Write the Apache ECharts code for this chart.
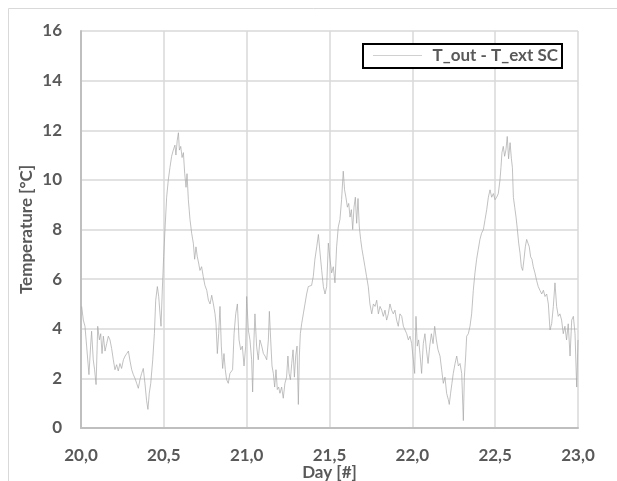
<!DOCTYPE html>
<html>
<head>
<meta charset="utf-8">
<script src="https://cdn.jsdelivr.net/npm/echarts@6/dist/echarts.min.js"></script>
<style>html,body{margin:0;padding:0;background:#fff;}#c{width:617px;height:481px;}</style>
</head>
<body>
<div id="c"></div>
<script>
const seriesName = 'T_out - T_ext SC';
const xTicks = [20.0, 20.5, 21.0, 21.5, 22.0, 22.5, 23.0];
const yTicks = [0, 2, 4, 6, 8, 10, 12, 14, 16];
const days = [
20.004,20.014,20.024,20.034,20.048,20.058,20.064,20.074,20.082,20.091,20.101,20.111,20.119,20.127,20.135,20.145,20.155,20.165,20.175,20.185,
20.195,20.205,20.215,20.225,20.235,20.245,20.256,20.266,20.276,20.286,20.296,20.306,20.316,20.326,20.336,20.346,20.356,20.366,20.376,20.386,
20.396,20.404,20.412,20.421,20.433,20.443,20.451,20.461,20.469,20.477,20.483,20.491,20.499,20.507,20.517,20.527,20.537,20.547,20.557,20.567,
20.573,20.581,20.588,20.594,20.602,20.610,20.618,20.626,20.634,20.640,20.648,20.658,20.668,20.678,20.686,20.694,20.702,20.710,20.718,20.728,
20.738,20.748,20.759,20.769,20.779,20.789,20.799,20.809,20.815,20.823,20.831,20.839,20.847,20.855,20.863,20.871,20.879,20.889,20.899,
20.915,20.924,20.934,20.944,20.954,20.964,20.974,20.984,20.994,21.000,21.010,21.020,21.030,21.036,21.044,21.050,21.060,21.070,21.080,21.091,
21.101,21.111,21.121,21.131,21.137,21.145,21.153,21.161,21.169,21.177,21.185,21.193,21.201,21.211,21.221,21.231,21.241,21.249,21.256,21.264,
21.272,21.280,21.288,21.296,21.304,21.312,21.318,21.324,21.332,21.342,21.352,21.362,21.372,21.382,21.392,21.402,21.412,21.423,21.433,21.443,
21.453,21.463,21.473,21.483,21.493,21.503,21.513,21.523,21.533,21.543,21.553,21.563,21.573,21.583,21.591,21.599,21.608,21.616,21.624,21.632,
21.640,21.648,21.656,21.664,21.672,21.680,21.688,21.696,21.704,21.714,21.724,21.734,21.744,21.755,21.765,21.775,21.785,21.795,21.805,21.815,
21.825,21.835,21.845,21.855,21.865,21.875,21.885,21.895,21.905,21.915,21.925,
21.936,21.946,21.956,21.966,21.976,21.986,21.996,22.006,22.014,22.022,22.030,22.038,22.046,22.056,22.066,22.076,22.085,22.095,22.105,22.115,
22.125,22.135,22.145,22.155,22.167,22.177,22.187,22.197,22.207,22.217,22.223,22.231,22.239,22.247,22.258,22.268,22.278,22.288,22.298,22.308,
22.314,22.322,22.328,22.338,22.348,22.358,22.368,22.378,22.388,22.398,22.408,22.418,22.429,22.439,22.449,22.459,22.469,22.479,22.489,22.499,
22.509,22.519,22.529,22.535,22.541,22.549,22.557,22.565,22.573,22.581,22.590,22.598,22.604,22.610,22.618,22.626,22.634,22.642,22.650,22.658,
22.666,22.674,22.682,22.690,22.698,22.706,22.714,22.722,22.730,22.740,22.750,22.760,22.770,22.781,22.791,22.801,22.811,22.821,22.831,22.841,
22.851,22.861,22.871,22.881,22.891,22.901,22.911,22.921,22.931,22.941,22.952,22.962,22.972,22.982,22.992,23.000
];
const temps = [
4.9,4.35,4.1,3.3,2.15,3.3,3.9,2.75,2.35,1.75,4.1,3.55,3.8,3.0,3.7,3.1,3.4,3.7,3.55,3.2,
2.75,2.35,2.55,2.3,2.6,2.4,2.75,2.9,3.0,3.1,2.7,2.35,2.15,2.0,1.8,1.6,1.95,2.2,2.4,1.8,
1.1,0.75,1.4,1.8,2.75,3.8,5.15,5.7,5.3,4.6,4.1,5.6,6.9,8.0,9.3,10.0,10.5,10.95,11.2,11.4,
11.0,11.6,11.9,11.2,11.35,10.9,11.1,10.25,9.7,10.25,9.2,8.4,7.85,7.45,6.8,7.3,6.9,6.65,6.35,6.5,
6.1,5.75,5.55,5.15,5.0,5.35,5.0,4.6,4.2,3.0,3.8,4.9,3.3,2.4,3.0,2.35,1.95,1.8,2.2,
2.35,3.8,4.6,5.0,3.55,3.15,3.3,2.5,3.3,5.3,3.95,3.55,2.75,1.45,3.55,4.6,3.3,2.75,3.55,3.3,
3.0,2.9,2.75,3.55,4.7,3.55,2.5,2.2,1.65,2.35,1.55,1.65,1.4,1.65,1.2,1.8,2.05,2.9,2.2,1.95,
2.6,3.15,2.05,2.9,3.3,0.95,2.9,3.8,4.2,4.6,5.0,5.4,5.7,5.65,5.75,6.1,6.8,7.3,7.8,7.05,
6.35,5.7,5.4,5.7,7.45,6.8,6.25,6.5,5.85,7.3,8.1,8.4,9.2,10.35,9.6,9.3,8.9,9.05,8.5,8.8,
8.0,8.9,9.3,8.25,9.25,8.1,7.6,7.2,6.9,6.5,6.1,5.7,5.0,4.6,5.0,4.9,5.15,4.6,4.9,4.75,
4.5,4.75,4.35,4.6,5.0,4.75,4.6,4.75,4.35,4.1,4.6,
4.5,4.1,3.95,3.8,3.55,3.7,3.4,2.75,2.2,4.5,3.3,3.55,3.0,2.2,3.4,3.8,3.15,2.6,3.3,3.8,
3.4,4.1,3.55,3.15,2.9,2.35,1.8,2.05,1.4,1.15,0.95,1.4,1.8,2.2,2.6,2.9,2.5,2.6,2.2,0.3,
2.05,2.9,3.7,3.8,4.1,4.6,5.55,6.25,6.8,7.2,7.6,7.85,8.0,8.4,8.8,9.3,9.6,9.3,9.45,9.2,
9.3,9.45,10.0,10.5,11.1,11.35,10.95,11.2,11.75,10.85,11.5,10.85,10.5,9.3,8.9,8.5,8.0,7.45,7.05,6.5,
6.35,6.8,7.3,7.6,7.45,7.3,6.9,6.8,6.5,6.25,5.95,5.7,5.55,5.4,5.55,5.3,5.4,5.0,3.95,4.2,
4.9,5.85,4.9,4.5,4.6,4.35,3.8,4.1,3.55,4.2,2.9,4.35,4.5,3.8,1.65,3.55
];

const data = days.map((d, i) => [d, temps[i]]);
const fmt = v => v.toFixed(1).replace('.', ',');
const FONT = 'Lato';
const labelCol = '#595959';
const lineCol = '#a6a6a6';

const chart = echarts.init(document.getElementById('c'), null, {renderer: 'canvas'});
chart.setOption({
  animation: false,
  backgroundColor: '#ffffff',
  grid: {left: 81, top: 31, right: 39, bottom: 53, containLabel: false, outerBoundsMode: 'none'},
  xAxis: {
    type: 'value', min: xTicks[0], max: xTicks[xTicks.length - 1], interval: 0.5,
    name: 'Day [#]', nameLocation: 'middle', nameGap: 36, nameMoveOverlap: false,
    nameTextStyle: {fontFamily: FONT, fontWeight: 'bold', fontSize: 17, color: labelCol},
    axisLine: {show: true, onZero: false, lineStyle: {color: '#bfbfbf', width: 2}},
    axisTick: {show: false},
    axisLabel: {formatter: fmt, fontFamily: FONT, fontWeight: 'bold', fontSize: 17, color: labelCol, margin: 19},
    splitLine: {show: true, lineStyle: {color: '#d9d9d9', width: 1.5}}
  },
  yAxis: {
    type: 'value', min: yTicks[0], max: yTicks[yTicks.length - 1], interval: 2,
    name: 'Temperature [°C]', nameLocation: 'middle', nameGap: 46, nameRotate: 90, nameMoveOverlap: false,
    nameTextStyle: {fontFamily: FONT, fontWeight: 'bold', fontSize: 17, color: labelCol},
    axisLine: {show: true, lineStyle: {color: '#bfbfbf', width: 2}},
    axisTick: {show: false},
    axisLabel: {fontFamily: FONT, fontWeight: 'bold', fontSize: 17, color: labelCol, margin: 19},
    splitLine: {show: true, lineStyle: {color: '#d9d9d9', width: 1.5}}
  },
  graphic: [
    {
      type: 'rect', silent: true, z: -10,
      shape: {x: 8.5, y: 8.5, width: 700, height: 600},
      style: {fill: 'none', stroke: '#d9d9d9', lineWidth: 1}
    },
    {
      type: 'rect', silent: true, z: 100,
      shape: {x: 363, y: 44, width: 199, height: 24},
      style: {fill: '#ffffff', stroke: '#000000', lineWidth: 2}
    },
    {
      type: 'line', silent: true, z: 101,
      shape: {x1: 373, y1: 55.5, x2: 422, y2: 55.5},
      style: {stroke: '#d0d0d0', lineWidth: 1}
    },
    {
      type: 'text', silent: true, z: 101,
      style: {x: 558, y: 56, text: seriesName, align: 'right', verticalAlign: 'middle',
              fontFamily: FONT, fontWeight: 'bold', fontSize: 17, fill: labelCol}
    }
  ],
  series: [{
    name: seriesName, type: 'line', data: data,
    showSymbol: false, symbol: 'none',
    lineStyle: {color: lineCol, width: 0.7},
    itemStyle: {color: lineCol}
  }]
});
</script>
</body>
</html>
